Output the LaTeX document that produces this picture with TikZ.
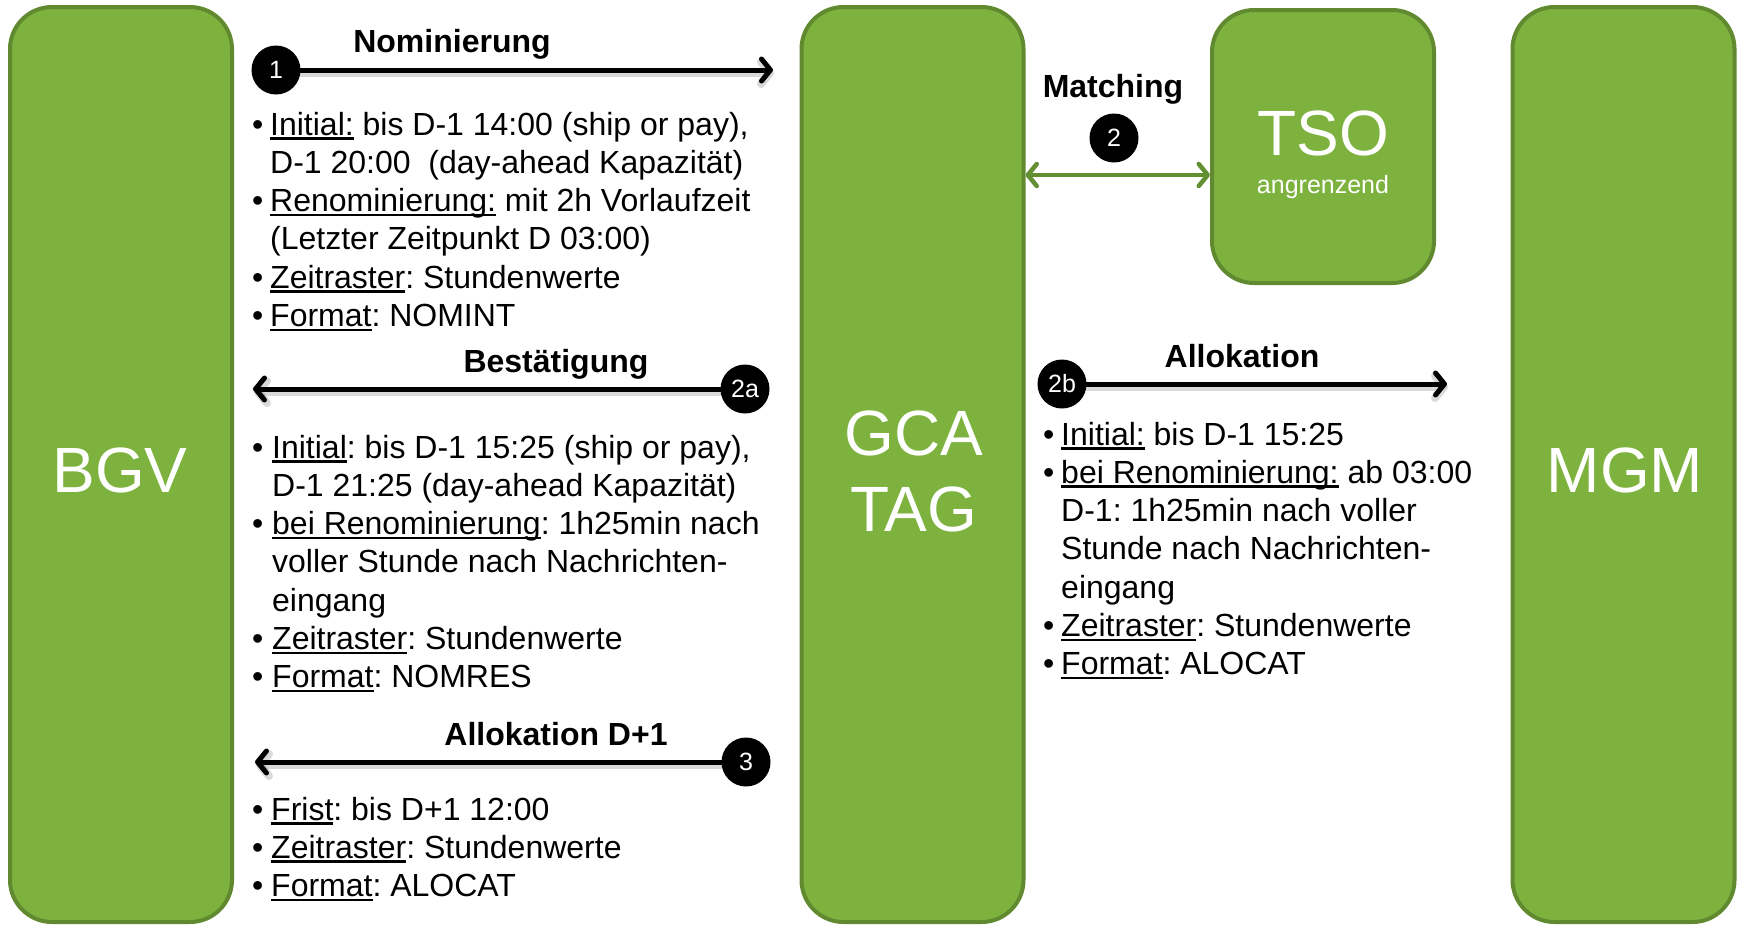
\documentclass[tikz,border=0pt]{standalone}
\usepackage{fontspec}
\setmainfont{Liberation Sans}
\usetikzlibrary{arrows.meta}
\definecolor{boxgreen}{RGB}{125,178,62}
\definecolor{boxedge}{RGB}{97,138,48}
\definecolor{arrgreen}{RGB}{97,143,50}
\newsavebox\ulbox
\newcommand\ulx[1]{\sbox\ulbox{#1}\rlap{\rule[-4.5pt]{\wd\ulbox}{2.4pt}}\usebox\ulbox}
\frenchspacing
\begin{document}
\begin{tikzpicture}[x=1pt,y=-1pt,
  actor/.style={draw=boxedge,line width=4pt,fill=boxgreen,rounded corners=42pt,minimum width=222pt,inner sep=0pt},
  bigtxt/.style={text=white,font=\fontsize{64}{64}\selectfont,anchor=base,inner sep=0pt},
  num/.style={circle,fill=black,minimum size=49pt,inner sep=0pt,text=white,font=\fontsize{25}{25}\selectfont},
  msg/.style={line width=5pt,-{Straight Barb[length=9pt,width=22pt,round]}},
  shd/.style={draw=black,opacity=0.15,line width=8pt,-{Straight Barb[length=9pt,width=22pt,round]}},
  msgtwo/.style={draw=arrgreen,line width=4.5pt,{Straight Barb[length=9pt,width=22pt,round]}-{Straight Barb[length=9pt,width=22pt,round]}},
  lbl/.style={font=\fontsize{32}{38}\selectfont\bfseries,anchor=base,inner sep=0pt},
  lst/.style={font=\fontsize{32}{38.3}\selectfont,anchor=base west,inner sep=0pt},
  sub/.style={text=white,anchor=base,inner sep=0pt}]
\useasboundingbox (0,0) rectangle (1737,924);

% actors
\node[actor,minimum height=915pt] (bgv) at (121,464.5) {};
\node[actor,minimum height=915pt] (gca) at (912.5,464.5) {};
\node[actor,minimum height=273pt] (tso) at (1323,146.5) {};
\node[actor,minimum height=915pt] (mgm) at (1623.5,464.5) {};
\node[bigtxt] (bgvt) at (120,492) {BGV};
\node[bigtxt] (gcat) at (914,455) {GCA};
\node[bigtxt] (tagt) at (914,531) {TAG};
\node[bigtxt] (mgmt) at (1625,492) {MGM};
\node[bigtxt] (tsot) at (1323,155) {TSO};
\node[sub,font=\fontsize{25}{25}\selectfont] (tsos) at (1323,193) {angrenzend};

% coordinates: circle centres and arrow ends
\coordinate (c1) at (276,70);
\coordinate (c2a) at (745,389);
\coordinate (c3) at (746,762);
\coordinate (c2b) at (1062,384);
\coordinate (t1) at (773,70);
\coordinate (t2a) at (253,389);
\coordinate (t3) at (255,762);
\coordinate (t2b) at (1447,384);
\coordinate (mrow) at (0,175);

% soft shadows of the arrows
\draw[shd] ([shift={(1,3)}]c1) -- ([shift={(1,3)}]t1);
\draw[shd] ([shift={(1,3)}]c2a) -- ([shift={(1,3)}]t2a);
\draw[shd] ([shift={(1,3)}]c3) -- ([shift={(1,3)}]t3);
\draw[shd] ([shift={(1,3)}]c2b) -- ([shift={(1,3)}]t2b);

% arrows
\draw[msg] (c1) -- (t1);
\draw[msg] (c2a) -- (t2a);
\draw[msg] (c3) -- (t3);
\draw[msg] (c2b) -- (t2b);
\draw[msgtwo] (gca.east |- mrow) -- (tso.west |- mrow);

% numbered circles
\node[num] (n1) at (c1) {1};
\node[num] (n2) at (1114,138) {2};
\node[num] (n2a) at (c2a) {2a};
\node[num] (n3) at (c3) {3};
\node[num] (n2b) at (c2b) {2b};

% labels
\node[lbl] (lab1) at (452,52) {Nominierung};
\node[lbl] (lab2) at (1113,97) {Matching};
\node[lbl] (lab2a) at (556,372) {Bestätigung};
\node[lbl] (lab3) at (556,745) {Allokation D+1};
\node[lbl] (lab2b) at (1242,367) {Allokation};

% lists
\node[lst] (list1) at (252,135) {\begin{tabular}[t]{@{}p{18pt}@{}l@{}}
\textbullet & \ulx{Initial:} bis D-1 14:00 (ship or pay),\\
 & D-1 20:00 \ (day-ahead Kapazität)\\
\textbullet & \ulx{Renominierung:} mit 2h Vorlaufzeit\\
 & (Letzter Zeitpunkt D 03:00)\\
\textbullet & \ulx{Zeitraster}: Stundenwerte\\
\textbullet & \ulx{Format}: NOMINT
\end{tabular}};

\node[lst] (list2) at (252,458) {\begin{tabular}[t]{@{}p{20pt}@{}l@{}}
\textbullet & \ulx{Initial}: bis D-1 15:25 (ship or pay),\\
 & D-1 21:25 (day-ahead Kapazität)\\
\textbullet & \ulx{bei Renominierung}: 1h25min nach\\
 & voller Stunde nach Nachrichten-\\
 & eingang\\
\textbullet & \ulx{Zeitraster}: Stundenwerte\\
\textbullet & \ulx{Format}: NOMRES
\end{tabular}};

\node[lst] (list3) at (252,820) {\begin{tabular}[t]{@{}p{19pt}@{}l@{}}
\textbullet & \ulx{Frist}: bis D+1 12:00\\
\textbullet & \ulx{Zeitraster}: Stundenwerte\\
\textbullet & \ulx{Format}: ALOCAT
\end{tabular}};

\node[lst] (list4) at (1043,445) {\begin{tabular}[t]{@{}p{18pt}@{}l@{}}
\textbullet & \ulx{Initial:} bis D-1 15:25\\
\textbullet & \ulx{bei Renominierung:} ab 03:00\\
 & D-1: 1h25min nach voller\\
 & Stunde nach Nachrichten-\\
 & eingang\\
\textbullet & \ulx{Zeitraster}: Stundenwerte\\
\textbullet & \ulx{Format}: ALOCAT
\end{tabular}};
\end{tikzpicture}
\end{document}
